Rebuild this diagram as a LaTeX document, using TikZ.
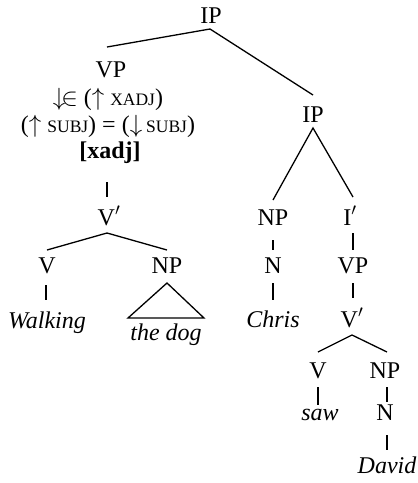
\documentclass[tikz,border=0pt]{standalone}
\usepackage{fontspec}
\setmainfont{Liberation Serif}
\usetikzlibrary{calc}
\newcommand{\fsc}[1]{{\fontsize{17.5}{20}\selectfont #1}}
\begin{document}
\begin{tikzpicture}[x=1pt,y=1pt,
  lbl/.style={anchor=base,inner sep=0pt,font=\fontsize{24}{28}\selectfont},
  edge/.style={line width=1.3pt}]
\useasboundingbox (0,0) rectangle (418,-483);
% nodes
\node[lbl] (ipT) at (211,-23) {IP};
\node[lbl] (vp) at (111,-77) {VP};
\node[lbl] (c1) at (108,-105) {$\downarrow\!\in$ ($\uparrow$\ \fsc{XADJ})};
\node[lbl] (c2) at (108,-132) {($\uparrow$\ \fsc{SUBJ}) = ($\downarrow$\,\fsc{SUBJ})};
\node[lbl] (c3) at (110,-158) {\textbf{[xadj]}};
\node[lbl] (vbar1) at (109,-225) {V$'$};
\node[lbl] (vL) at (47,-273) {V};
\node[lbl] (npL) at (167,-273) {NP};
\node[lbl] (walking) at (47,-328) {\itshape Walking};
\node[lbl] (thedog) at (166,-340) {\itshape the dog};
\node[lbl] (ipR) at (313,-122) {IP};
\node[lbl] (npR) at (273,-225) {NP};
\node[lbl] (ibar) at (350,-225) {I$'$};
\node[lbl] (nR) at (273,-273) {N};
\node[lbl] (vpR) at (353,-273) {VP};
\node[lbl] (chris) at (273,-327) {\itshape Chris};
\node[lbl] (vbar2) at (352,-327) {V$'$};
\node[lbl] (vLow) at (318,-378) {V};
\node[lbl] (npLow) at (385,-378) {NP};
\node[lbl] (saw) at (320,-420) {\itshape saw};
\node[lbl] (nLow) at (385,-420) {N};
\node[lbl] (david) at (387,-473) {\itshape David};
% connectors
\draw[edge] ($(vp.base)+(-4,30)$) -- ($(ipT.base)+(-1,-6)$) -- ($(ipR.base)+(0,27)$);
\draw[edge] ($(c3.base)+(-3,-24)$) -- ($(vbar1.base)+(-2,28)$);
\draw[edge] ($(vL.base)+(0,23)$) -- ($(vbar1.base)+(-2,-8)$) -- ($(npL.base)+(0,23)$);
\draw[edge] ($(vL.base)+(-1,-12)$) -- ($(walking.base)+(-1,28)$);
\draw[edge] ($(npL.base)+(0,-10)$) -- ($(npL.base)+(-39,-45)$) -- ($(npL.base)+(37,-45)$) -- cycle;
\draw[edge] ($(npR.base)+(0,25)$) -- ($(ipR.base)+(0,-6)$) -- ($(ibar.base)+(3,28)$);
\draw[edge] ($(npR.base)+(0,-15)$) -- ($(nR.base)+(0,23)$);
\draw[edge] ($(nR.base)+(0,-10)$) -- ($(chris.base)+(0,27)$);
\draw[edge] ($(ibar.base)+(3,-8)$) -- ($(vpR.base)+(0,23)$);
\draw[edge] ($(vpR.base)+(0,-10)$) -- ($(vbar2.base)+(1,29)$);
\draw[edge] ($(vLow.base)+(0,26)$) -- ($(vbar2.base)+(0,-8)$) -- ($(npLow.base)+(2,26)$);
\draw[edge] ($(vLow.base)+(0,-9)$) -- ($(saw.base)+(-2,15)$);
\draw[edge] ($(npLow.base)+(2,-9)$) -- ($(nLow.base)+(2,18)$);
\draw[edge] ($(nLow.base)+(2,-15)$) -- ($(david.base)+(0,23)$);
\end{tikzpicture}
\end{document}
